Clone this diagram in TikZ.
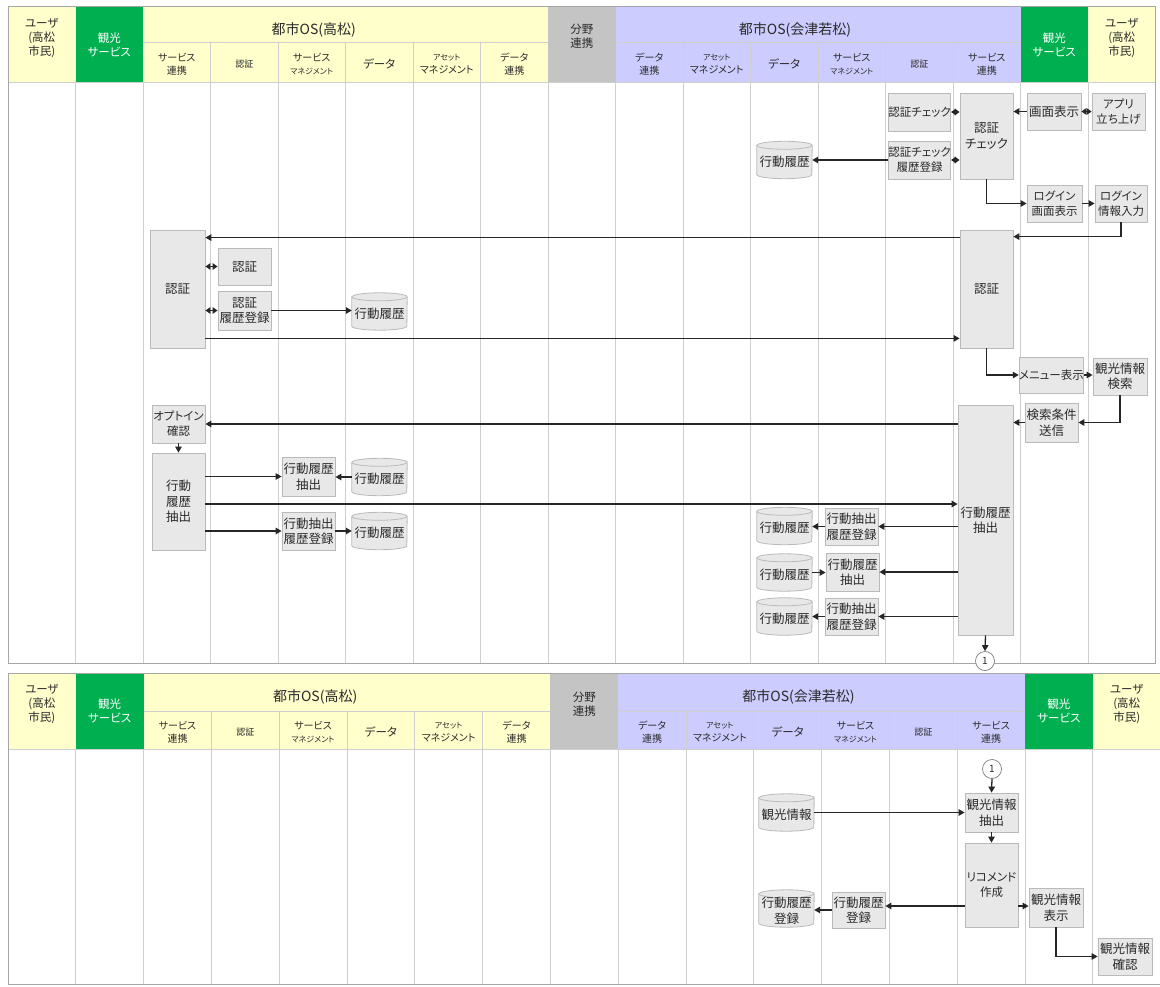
\documentclass[tikz,border=0pt]{standalone}
\usepackage{fontspec}
\setmainfont{Noto Sans CJK JP}[CharacterWidth=AlternateProportional]
\usetikzlibrary{arrows.meta,calc}

\definecolor{hdyellow}{HTML}{FFFFCC}
\definecolor{hdpurple}{HTML}{CCCCFF}
\definecolor{hdgray}{HTML}{C4C4C4}
\definecolor{hdgreen}{HTML}{00B050}
\definecolor{gridc}{HTML}{CFCFCF}
\definecolor{framec}{HTML}{A6A6A6}
\definecolor{boxfill}{HTML}{E8E8E8}
\definecolor{boxline}{HTML}{BABABA}
\definecolor{inkc}{HTML}{2A2A2A}
\definecolor{arrowc}{HTML}{262626}

\newcommand\hdfont{\fontsize{14}{16}\selectfont}
\newcommand\subfont{\fontsize{10}{13}\selectfont}
\newcommand\narrowfont{\fontsize{8}{10}\selectfont}
\newcommand\lanefont{\fontsize{11.5}{14}\selectfont}
\newcommand\boxfont{\fontsize{12.5}{15.5}\selectfont}
\newcommand\kanafont{\fontsize{11.5}{15}\selectfont}

\tikzset{
  gridline/.style={draw=gridc, line width=0.8pt},
  frameline/.style={draw=framec, line width=1pt},
  hdtext/.style={inner sep=0pt, align=center, text=inkc, font=\subfont},
  lanetext/.style={inner sep=0pt, align=center, text=inkc, font=\lanefont},
  whitetext/.style={inner sep=0pt, align=center, text=white, font=\lanefont},
  ostext/.style={inner sep=0pt, align=center, text=inkc, font=\hdfont},
  box/.style={draw=boxline, fill=boxfill, line width=0.8pt, inner sep=0pt,
    align=center, text=inkc, font=\boxfont, minimum width=53pt, minimum height=38pt},
  kana/.style={font=\kanafont},
  dbframe/.style={inner sep=0pt, minimum width=55pt, minimum height=37pt},
  dbbody/.style={draw=boxline, fill=boxfill, line width=0.8pt},
  dbtext/.style={inner sep=0pt, align=center, text=inkc, font=\boxfont},
  arr/.style={draw=arrowc, line width=1.3pt, -{Triangle[length=6pt,width=6.5pt]}},
  biarr/.style={draw=arrowc, line width=1.3pt,
    {Triangle[length=5pt,width=6.5pt]}-{Triangle[length=5pt,width=6.5pt]}},
  jump/.style={draw=gridc!60!black, fill=white, circle, inner sep=0pt,
    minimum size=19pt, text=inkc, font=\fontsize{10}{10}\selectfont, line width=0.7pt}
}

% swimlane table: prefix, top, header split, header bottom, bottom, lane width
\newcommand\lanepanel[6]{%
  \pgfmathsetmacro\lw{#6}%
  \pgfmathsetmacro\lr{8+17*#6}%
  \fill[hdyellow] (8,#2) rectangle ({8+\lw},#4);
  \fill[hdgreen] ({8+\lw},#2) rectangle ({8+2*\lw},#4);
  \fill[hdyellow] ({8+2*\lw},#2) rectangle ({8+8*\lw},#4);
  \fill[hdgray] ({8+8*\lw},#2) rectangle ({8+9*\lw},#4);
  \fill[hdpurple] ({8+9*\lw},#2) rectangle ({8+15*\lw},#4);
  \fill[hdgreen] ({8+15*\lw},#2) rectangle ({8+16*\lw},#4);
  \fill[hdyellow] ({8+16*\lw},#2) rectangle (\lr,#4);
  \draw[gridline] ({8+2*\lw},#3) -- ({8+8*\lw},#3);
  \draw[gridline] ({8+9*\lw},#3) -- ({8+15*\lw},#3);
  \foreach \k in {3,4,5,6,7,10,11,12,13,14}
    \draw[gridline] ({8+\k*\lw},#3) -- ({8+\k*\lw},#4);
  \foreach \k in {1,...,16}
    \draw[gridline] ({8+\k*\lw},#4) -- ({8+\k*\lw},#5);
  \draw[gridline] (8,#4) -- (\lr,#4);
  \draw[frameline] (8,#2) rectangle (\lr,#5);
  \node[lanetext] (#1-user-l) at ({8+0.5*\lw},{#2+31}) {ユーザ\\(高松\\市民)};
  \node[whitetext] (#1-svc-l) at ({8+1.5*\lw},{(#2+#4)/2}) {観光\\サービス};
  \node[ostext] (#1-os-t) at ({8+4.53*\lw},{(#2+#3)/2+5}) {都市OS(高松)};
  \node[lanetext] (#1-field) at ({8+8.5*\lw},{(#2+#3)/2+12}) {分野\\連携};
  \node[ostext] (#1-os-a) at ({8+11.66*\lw},{(#2+#3)/2+5}) {都市OS(会津若松)};
  \node[whitetext] (#1-svc-r) at ({8+15.5*\lw},{(#2+#4)/2}) {観光\\サービス};
  \node[lanetext] (#1-user-r) at ({8+16.5*\lw},{#2+31}) {ユーザ\\(高松\\市民)};
  \foreach \k/\lbl in {
      2/{サービス\\連携},
      3/{\fontsize{9}{10}\selectfont 認証},
      4/{サービス\\{\narrowfont マネジメント}},
      5/{\lanefont データ},
      6/{\narrowfont アセット\\マネジメント},
      7/{データ\\連携},
      9/{データ\\連携},
      10/{\narrowfont アセット\\マネジメント},
      11/{\lanefont データ},
      12/{サービス\\{\narrowfont マネジメント}},
      13/{\fontsize{9}{10}\selectfont 認証},
      14/{サービス\\連携}}
    \node[hdtext] (#1-sub\k) at ({8+(\k+0.5)*\lw},{(#3+#4)/2+2}) {\lbl};
}

% data store drawn as a cylinder: name, x, y, label
\newcommand\dbcyl[4]{%
  \node[dbframe] (#1) at (#2,#3) {};
  \filldraw[dbbody] ([yshift=-4pt]#1.north west) -- ([yshift=4pt]#1.south west)
    arc[start angle=180, end angle=360, x radius=27.5pt, y radius=4pt]
    -- ([yshift=-4pt]#1.north east)
    arc[start angle=0, end angle=180, x radius=27.5pt, y radius=4pt] -- cycle;
  \draw[dbbody, fill=none] ([yshift=-4pt]#1.north west)
    arc[start angle=180, end angle=360, x radius=27.5pt, y radius=4pt];
  \node[dbtext] (#1-t) at ([yshift=-2pt]#1.center) {#4};
}

\begin{document}
\begin{tikzpicture}[x=1pt,y=-1pt]
\fill[white] (0,0) rectangle (1160,987);
\useasboundingbox (0,0) rectangle (1160,987);

\lanepanel{p1}{7}{42}{82}{663}{67.5}
\lanepanel{p2}{673}{711}{749}{984}{67.8}

% ---------- first sheet: login and history extraction ----------
\node[box, minimum height=86pt] (a-chk-main) at (986.5,136) {認証\\チェック};
\node[box, kana, minimum width=55pt] (a-chk) at (919.5,112) {認証チェック};
\node[box, kana, minimum width=55pt] (a-chk-log) at (919.5,160) {認証チェック\\履歴登録};
\dbcyl{a-db1}{784.5}{160}{行動履歴}
\node[box, minimum width=54pt, minimum height=37pt] (g-disp) at (1054,111.5) {画面表示};
\node[box, kana, minimum height=37pt] (u-app) at (1118.5,111.5) {アプリ\\立ち上げ};
\node[box, kana, minimum width=55pt, minimum height=37pt] (g-login) at (1054.5,203.5) {ログイン\\画面表示};
\node[box, kana, minimum width=52pt, minimum height=37pt] (u-login) at (1121,203.5) {ログイン\\情報入力};

\node[box, minimum height=118pt] (a-auth) at (986.5,289) {認証};
\node[box, minimum width=55pt, minimum height=118pt] (t-auth) at (177.5,289) {認証};
\node[box, minimum height=37pt] (t-auth-chk) at (244.5,266.5) {認証};
\node[box, minimum height=39pt] (t-auth-log) at (244.5,310.5) {認証\\履歴登録};
\dbcyl{t-db1}{379.5}{311.5}{行動履歴}

\node[box, kana, minimum height=36pt] (g-menu) at (1051.5,375) {メニュー表示};
\node[box, minimum width=54pt, minimum height=37pt] (u-search) at (1120,376.5) {観光情報\\検索};
\node[box, minimum height=39pt] (g-send) at (1051.5,422.5) {検索条件\\送信};
\node[box, minimum width=55pt, minimum height=230pt] (a-hist) at (985.5,520) {行動履歴\\抽出};

\node[box, kana] (t-optin) at (178.5,424) {オプトイン\\確認};
\node[box, minimum height=97pt] (t-extract) at (178.5,501.5) {行動\\履歴\\抽出};
\node[box, minimum height=39pt] (t-sm1) at (308.5,476.5) {行動履歴\\抽出};
\dbcyl{t-db2}{379.5}{477}{行動履歴}
\node[box] (t-sm2) at (308.5,531) {行動抽出\\履歴登録};
\dbcyl{t-db3}{379.5}{531}{行動履歴}

\node[box, minimum height=37pt] (a-sm1) at (851.5,526.5) {行動抽出\\履歴登録};
\dbcyl{a-db2}{784.5}{526}{行動履歴}
\node[box] (a-sm2) at (852.5,572) {行動履歴\\抽出};
\dbcyl{a-db3}{784.5}{572.5}{行動履歴}
\node[box, minimum height=37pt] (a-sm3) at (851.5,616.5) {行動抽出\\履歴登録};
\dbcyl{a-db4}{784.5}{616.5}{行動履歴}
\node[jump] (c1) at (985,661) {1};

\coordinate (lvl-hist) at (0,504);

\draw[biarr] (u-app.west) -- (g-disp.east);
\draw[arr] (g-disp.west) -- (a-chk-main.east |- g-disp.west);
\draw[biarr] (a-chk-main.west |- a-chk.east) -- (a-chk.east);
\draw[biarr] (a-chk-main.west |- a-chk-log.east) -- (a-chk-log.east);
\draw[arr] (a-chk-log.west) -- (a-db1.east);
\draw[arr] (a-chk-main.south) |- (g-login.west);
\draw[arr] (g-login.east) -- (u-login.west);
\draw[arr] (u-login.south) |- ($(a-auth.north east)+(0,7)$);
\draw[arr] ([yshift=-8pt]a-auth.north west) -- ([yshift=-8pt]t-auth.north east);
\draw[biarr] (t-auth.east |- t-auth-chk.west) -- (t-auth-chk.west);
\draw[biarr] (t-auth.east |- t-auth-log.west) -- (t-auth-log.west);
\draw[arr] (t-auth-log.east) -- (t-db1.west |- t-auth-log.east);
\draw[arr] ([yshift=10pt]t-auth.south east) -- ([yshift=10pt]a-auth.south west);
\draw[arr] (a-auth.south) |- (g-menu.west);
\draw[arr] (g-menu.east) -- (u-search.west |- g-menu.east);
\draw[arr] (u-search.south) |- (g-send.east);
\draw[arr] (g-send.west) -- (a-hist.east |- g-send.west);
\draw[arr] (a-hist.west |- t-optin.east) -- (t-optin.east);
\draw[arr] (t-optin.south) -- (t-extract.north);
\draw[arr] (t-extract.east |- t-sm1.west) -- (t-sm1.west);
\draw[arr] (t-db2.west) -- (t-sm1.east |- t-db2.west);
\draw[arr] (t-extract.east |- lvl-hist) -- (a-hist.west |- lvl-hist);
\draw[arr] (t-extract.east |- t-sm2.west) -- (t-sm2.west);
\draw[arr] (t-sm2.east) -- (t-db3.west);
\draw[arr] (a-hist.west |- a-sm1.east) -- (a-sm1.east);
\draw[arr] (a-sm1.west) -- (a-db2.east |- a-sm1.west);
\draw[arr] (a-hist.west |- a-sm2.east) -- (a-sm2.east);
\draw[arr] (a-db3.east) -- (a-sm2.west |- a-db3.east);
\draw[arr] (a-hist.west |- a-sm3.east) -- (a-sm3.east);
\draw[arr] (a-sm3.west) -- (a-db4.east);
\draw[arr] (a-hist.south) -- (c1.north);

% ---------- second sheet: recommendation ----------
\node[jump] (c2) at (992,769) {1};
\node[box, minimum height=39pt] (b-extract) at (991.5,812.5) {観光情報\\抽出};
\dbcyl{b-db1}{786.5}{812.5}{観光情報}
\node[box, kana, minimum height=84pt] (b-rec) at (991.5,885) {リコメンド\\作成};
\node[box, minimum width=54pt, minimum height=39pt] (b-disp) at (1056,907.5) {観光情報\\表示};
\node[box, minimum height=36pt] (b-sm) at (858.5,910) {行動履歴\\登録};
\dbcyl{b-db2}{786.5}{908.5}{行動履歴\\登録}
\node[box, minimum width=54pt, minimum height=37pt] (b-confirm) at (1125,956.5) {観光情報\\確認};

\coordinate (lvl-rec) at (0,906);

\draw[arr] (c2.south) -- (b-extract.north);
\draw[arr] (b-db1.east) -- (b-extract.west);
\draw[arr] (b-extract.south) -- (b-rec.north);
\draw[arr] (b-rec.east |- lvl-rec) -- (b-disp.west |- lvl-rec);
\draw[arr] (b-rec.west |- lvl-rec) -- (b-sm.east |- lvl-rec);
\draw[arr] (b-sm.west) -- (b-db2.east |- b-sm.west);
\draw[arr] (b-disp.south) |- (b-confirm.west);
\end{tikzpicture}
\end{document}
